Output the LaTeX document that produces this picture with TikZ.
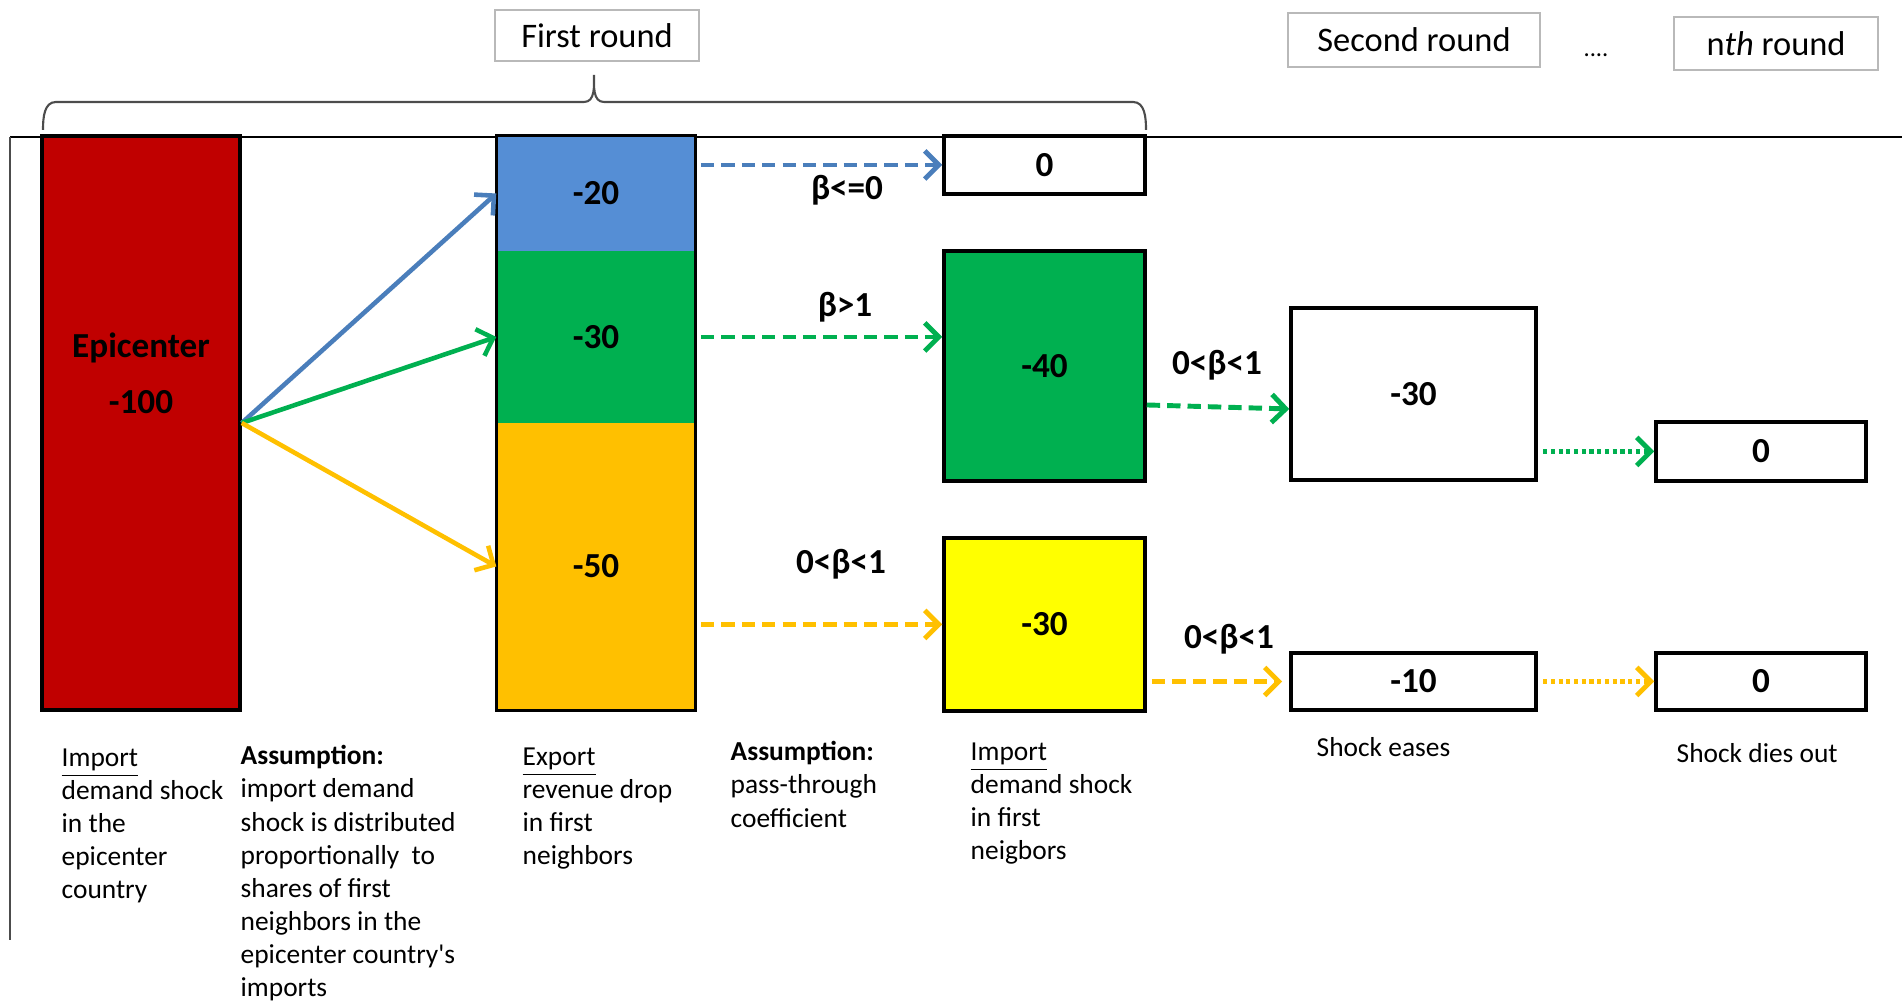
\documentclass[tikz,border=0pt]{standalone}
\usepackage{fontspec}
\setmainfont{Carlito}
\usepackage{tikz}
\usetikzlibrary{arrows.meta, positioning}

\definecolor{epired}{HTML}{C00000}
\definecolor{segblue}{HTML}{558ED5}
\definecolor{seggreen}{HTML}{00B050}
\definecolor{segorange}{HTML}{FFC000}
\definecolor{boxyellow}{HTML}{FFFF00}
\definecolor{arrblue}{HTML}{4A7EBB}

\begin{document}
\begin{tikzpicture}[
    shockbox/.style={draw, line width=1pt, rectangle, inner sep=0pt, font=\fontsize{10}{12}\selectfont\bfseries},
    roundbox/.style={draw=gray!55, line width=0.5pt, rectangle, inner sep=0pt, font=\fontsize{9.8}{12}\selectfont},
    betalabel/.style={inner sep=1pt, font=\fontsize{10}{12}\selectfont\bfseries},
    notetext/.style={anchor=north west, inner sep=0pt, align=left, font=\fontsize{7.8}{9.4}\selectfont},
    spread/.style={line width=1.3pt, -{Straight Barb[length=4pt,width=8pt]}},
    flow/.style={line width=1.4pt, dash pattern=on 3.8pt off 2pt, -{Straight Barb[length=4pt,width=8pt]}},
    dotflow/.style={line width=1.4pt, dash pattern=on 1.2pt off 1pt, -{Straight Barb[length=4pt,width=8pt]}}
]
    \useasboundingbox (0,0) rectangle (19.02,10.03);

    % Frame lines
    \draw[line width=0.8pt] (0.10,8.66) -- (19.02,8.66);
    \draw[gray!60!black, line width=0.6pt] (0.10,8.66) -- (0.10,0.63);

    % Round headers
    \node[roundbox, minimum width=2.04cm, minimum height=0.51cm] (r1) at (5.97,9.675) {First round};
    \node[roundbox, minimum width=2.52cm, minimum height=0.54cm] (r2) at (14.14,9.63) {Second round};
    \node[roundbox, minimum width=2.04cm, minimum height=0.53cm] (rn) at (17.76,9.595) {n\textit{th} round};
    \node[font=\fontsize{7}{8}\selectfont] (dots) at (15.96,9.48) {....};

    % Brace over the first round
    \draw[gray!60!black, line width=0.6pt] (0.43,8.73) to[out=90,in=180] (0.56,9.01) -- (5.84,9.01)
        to[out=0,in=-90] (5.94,9.28) to[out=-90,in=180] (6.04,9.01) -- (11.33,9.01) to[out=0,in=90] (11.46,8.73);

    % Epicenter
    \node[shockbox, fill=epired, minimum width=1.98cm, minimum height=5.74cm] (epi) at (1.41,5.80) {};
    \node[font=\fontsize{10}{12}\selectfont\bfseries, align=center] (epitext) at (1.41,6.30) {Epicenter\\[4pt]-100};

    % First neighbors, export side
    \node[fill=segblue, inner sep=0pt, minimum width=1.98cm, minimum height=1.15cm, font=\fontsize{10}{12}\selectfont\bfseries] (blue) at (5.96,8.095) {-20};
    \node[fill=seggreen, inner sep=0pt, minimum width=1.98cm, minimum height=1.72cm, font=\fontsize{10}{12}\selectfont\bfseries] (green) at (5.96,6.66) {-30};
    \node[fill=segorange, inner sep=0pt, minimum width=1.98cm, minimum height=2.87cm, font=\fontsize{10}{12}\selectfont\bfseries] (orange) at (5.96,4.365) {-50};
    \draw[line width=1pt] (blue.north west) rectangle (orange.south east);

    % First neighbors, import side
    \node[shockbox, fill=white, minimum width=2.01cm, minimum height=0.58cm] (z1) at (10.445,8.38) {0};
    \node[shockbox, fill=seggreen, minimum width=2.01cm, minimum height=2.30cm] (g40) at (10.445,6.37) {-40};
    \node[shockbox, fill=boxyellow, minimum width=2.01cm, minimum height=1.73cm] (y30) at (10.445,3.785) {-30};

    % Later rounds
    \node[shockbox, minimum width=2.45cm, minimum height=1.72cm] (w30) at (14.135,6.09) {-30};
    \node[shockbox, minimum width=2.45cm, minimum height=0.57cm] (m10) at (14.135,3.215) {-10};
    \node[shockbox, minimum width=2.10cm, minimum height=0.59cm] (z2) at (17.61,5.515) {0};
    \node[shockbox, minimum width=2.10cm, minimum height=0.57cm] (z3) at (17.61,3.215) {0};

    % Shock split over neighbors
    \draw[spread, arrblue] (epi.east) -- (blue.west);
    \draw[spread, seggreen] (epi.east) -- (green.west);
    \draw[spread, segorange] (epi.east) -- (orange.west);

    % Pass-through
    \draw[flow, arrblue, shorten <=1.5pt] (blue.east |- z1.west) -- (z1.west);
    \draw[flow, seggreen, shorten <=1.5pt] (green.east) -- (green.east -| g40.west);
    \draw[flow, segorange, shorten <=1.5pt] (orange.east |- y30.west) -- (y30.west);
    \draw[flow, seggreen] ([yshift=-0.39cm]g40.east) -- ([yshift=-0.15cm]w30.west);
    \draw[flow, segorange, shorten <=1.5pt, shorten >=2pt] (y30.east |- m10.west) -- (m10.west);
    \draw[dotflow, seggreen, shorten <=1.5pt] (w30.east |- z2.west) -- (z2.west);
    \draw[dotflow, segorange, shorten <=1.5pt] (m10.east) -- (z3.west);

    % Coefficients
    \node[betalabel] (b1) at (8.47,8.13) {β<=0};
    \node[betalabel] (b2) at (8.45,6.96) {β>1};
    \node[betalabel] (b3) at (8.41,4.39) {0<β<1};
    \node[betalabel] (b4) at (12.17,6.38) {0<β<1};
    \node[betalabel] (b5) at (12.29,3.64) {0<β<1};

    % Notes under the boxes
    \node[notetext] (imptxt) at (0.61,2.55) {\underline{Import}\\demand shock\\in the\\epicenter\\country};
    \node[notetext] (assum1) at (2.40,2.58) {\textbf{Assumption:}\\import demand\\shock is distributed\\proportionally\ \ to\\shares of first\\neighbors in the\\epicenter country\textquotesingle s\\imports};
    \node[notetext] (exptxt) at (5.22,2.56) {\underline{Export}\\revenue drop\\in first\\neighbors};
    \node[notetext] (assum2) at (7.30,2.62) {\textbf{Assumption:}\\pass-through\\coefficient};
    \node[notetext] (imptxt2) at (9.70,2.61) {\underline{Import}\\demand shock\\in first\\neigbors};
    \node[notetext] (eases) at (13.16,2.66) {Shock eases};
    \node[notetext] (diesout) at (16.76,2.60) {Shock dies out};

\end{tikzpicture}
\end{document}
